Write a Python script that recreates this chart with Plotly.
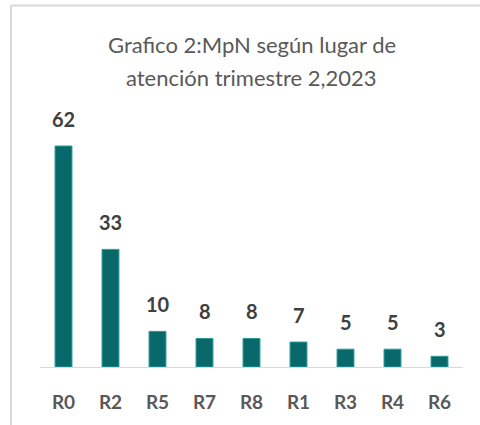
import plotly.graph_objects as go

categories = ["R0", "R2", "R5", "R7", "R8", "R1", "R3", "R4", "R6"]
values = [62, 33, 10, 8, 8, 7, 5, 5, 3]
title_lines = ["Grafico 2:MpN según lugar de", "atención trimestre 2,2023"]

W, H = 480, 425
x0, x1 = 40, 463
ybot, ytop = 367, 117.5

fig = go.Figure()
fig.add_trace(go.Bar(
    x=categories, y=values,
    marker=dict(color="#08686a", line=dict(color="#2c9c9c", width=1)),
    width=0.36,
    hoverinfo="skip",
))

for c, v in zip(categories, values):
    fig.add_annotation(x=c, y=v, text=f"<b>{v}</b>", showarrow=False,
                       yanchor="bottom", yshift=13,
                       font=dict(family="Lato", size=20, color="#404040"))

for i, (line, yc) in enumerate(zip(title_lines, [45, 78])):
    fig.add_annotation(x=(x0 + x1) / 2 / W, y=(H - yc) / H, xref="paper", yref="paper",
                       text=line, showarrow=False, xanchor="center", yanchor="middle",
                       font=dict(family="Lato", size=22, color="#595959"))

# chart border (cropped on right and bottom)
fig.add_shape(type="line", xref="paper", yref="paper",
              x0=11 / W, x1=1.05, y0=(H - 5.5) / H, y1=(H - 5.5) / H,
              line=dict(color="#d9d9d9", width=2))
fig.add_shape(type="line", xref="paper", yref="paper",
              x0=11 / W, x1=11 / W, y0=(H - 5.5) / H, y1=-0.05,
              line=dict(color="#d9d9d9", width=2))

fig.update_layout(
    width=W, height=H,
    margin=dict(l=0, r=0, t=0, b=0),
    paper_bgcolor="white", plot_bgcolor="white",
    showlegend=False,
    xaxis=dict(domain=[x0 / W, x1 / W], showline=True, linecolor="#d9d9d9", linewidth=1,
               showgrid=False, ticks="", ticklabelstandoff=18,
               tickfont=dict(family="Lato", size=19, color="#595959"),
               tickprefix="<b>", ticksuffix="</b>"),
    yaxis=dict(domain=[(H - ybot) / H, (H - ytop) / H], range=[0, 70],
               visible=False, showgrid=False),
)

fig.write_html("out.html", config={"displayModeBar": False},
               post_script="document.body.style.margin='0';document.body.style.overflow='hidden';")
